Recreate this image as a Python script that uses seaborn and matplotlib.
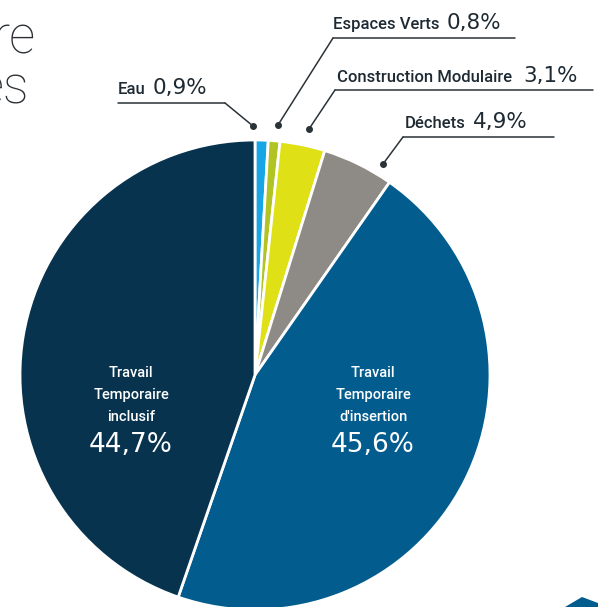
import matplotlib
matplotlib.use("Agg")
import matplotlib.pyplot as plt
import seaborn as sns
from matplotlib.patches import Polygon

# data, clockwise from 12 o'clock
categories = ["Eau", "Espaces Verts", "Construction Modulaire", "Déchets",
              "Travail\nTemporaire\nd'insertion", "Travail\nTemporaire\ninclusif"]
values = [0.9, 0.8, 3.1, 4.9, 45.6, 44.7]
pct_labels = ["0,9%", "0,8%", "3,1%", "4,9%", "45,6%", "44,7%"]
colors = ["#17a5e6", "#b2c424", "#dfe015", "#8e8a85", "#035c8e", "#07334f"]

sns.set_theme(style="white")
plt.rcParams['font.family'] = ['Roboto', 'DejaVu Sans']

W, H = 598, 607
fig = plt.figure(figsize=(W / 100, H / 100), dpi=100)
ax = fig.add_axes([0, 0, 1, 1])

def Y(y):
    return H - y

cx, cy, r = 255, 375, 235
ax.pie(values, colors=colors, startangle=90, counterclock=False,
       center=(cx, Y(cy)), radius=r,
       wedgeprops=dict(edgecolor="white", linewidth=2))

ax.set_xlim(0, W)
ax.set_ylim(0, H)
ax.set_aspect("equal")
ax.axis("off")

# labels inside the two big slices
inner = [(4, 373), (5, 131)]
for i, x in inner:
    ax.text(x, Y(395), categories[i], ha="center", va="center", color="white",
            fontsize=10.5, fontweight="medium", linespacing=1.75)
    ax.text(x, Y(445), pct_labels[i], ha="center", va="center", color="white",
            fontsize=19, family="DejaVu Sans")

# outside callouts: name x, pct x, baseline y, underline (x0, x1, y), elbow x, dot
line_col = "#2a3338"
callouts = [
    (0, 118, 153, 94, 118, 225, 103, 225, (253, 126)),
    (1, 333, 447, 29, 333, 515, 38, 333, (278, 125)),
    (2, 337, 523, 82, 335, 593, 90, 335, (309, 129)),
    (3, 405, 473, 128, 403, 554, 137, 403, (383, 164)),
]
for i, nx, px, by, ux0, ux1, uy, ex, dot in callouts:
    ax.text(nx, Y(by), categories[i], ha="left", va="baseline",
            color="#1e2a33", fontsize=12, fontweight="medium")
    ax.text(px, Y(by), pct_labels[i], ha="left", va="baseline",
            color="#1e2a33", fontsize=15.5, family="DejaVu Sans")
    ax.plot([ux1, ux0], [Y(uy), Y(uy)], color=line_col, lw=1.1)
    ax.plot([ex, dot[0]], [Y(uy), Y(dot[1])], color=line_col, lw=1.1)
    ax.plot(dot[0], Y(dot[1]), "o", color=line_col, ms=4)

# cut-off title fragments at top left
ax.text(36, Y(53), "re", ha="right", va="baseline", color="#2b2f33",
        fontsize=37, fontweight="light")
ax.text(29, Y(103), "es", ha="right", va="baseline", color="#2b2f33",
        fontsize=37, fontweight="light")

# decorative corner shape
ax.add_patch(Polygon([(565, Y(607)), (582, Y(597)), (598, Y(603)), (598, Y(607))],
                     closed=True, color="#035c8e", lw=0))

fig.savefig("out.png", dpi=100)
